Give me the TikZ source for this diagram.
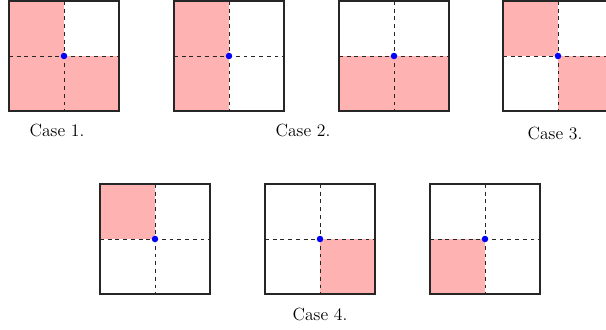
\documentclass[tikz,border=0pt]{standalone}
\begin{document}
\begin{tikzpicture}[x=0.02727cm,y=-0.02727cm,
  frame/.style={draw=black!85,line width=0.8pt},
  half/.style={dashed,line width=0.7pt,black!85},
  shade/.style={fill=red!30},
  dot/.style={circle,fill=blue,inner sep=0pt,minimum size=6.5*0.02727cm},
  lbl/.style={font=\fontsize{13.7}{16}\selectfont}]
\useasboundingbox (0,0) rectangle (606,329);
\newcommand{\quadbox}[4]{%
  \foreach \q in {#4}{%
    \ifcase\q\or
      \fill[shade] (#2-55,#3-55) rectangle (#2,#3);\or
      \fill[shade] (#2,#3-55) rectangle (#2+55,#3);\or
      \fill[shade] (#2-55,#3) rectangle (#2,#3+55);\or
      \fill[shade] (#2,#3) rectangle (#2+55,#3+55);\fi}
  \draw[frame] (#2-55,#3-55) rectangle (#2+55,#3+55);
  \coordinate (#1l) at (#2-55,#3);
  \coordinate (#1r) at (#2+55,#3);
  \coordinate (#1t) at (#2,#3-55);
  \coordinate (#1b) at (#2,#3+55);
  \draw[half] (#1l) -- (#1r);
  \draw[half] (#1t) -- (#1b);
  \node[dot] (#1c) at (#2,#3) {};
}
\quadbox{a}{64}{56}{1,3,4}
\quadbox{b}{229}{56}{1,3}
\quadbox{c}{394}{56}{3,4}
\quadbox{d}{558}{56}{1,4}
\quadbox{e}{155}{239}{1}
\quadbox{f}{320}{239}{4}
\quadbox{g}{485}{239}{3}
\node[lbl] (l1) at (57,130) {Case 1.};
\node[lbl] (l2) at (303,130) {Case 2.};
\node[lbl] (l3) at (555,133) {Case 3.};
\node[lbl] (l4) at (320,314) {Case 4.};
\end{tikzpicture}
\end{document}
